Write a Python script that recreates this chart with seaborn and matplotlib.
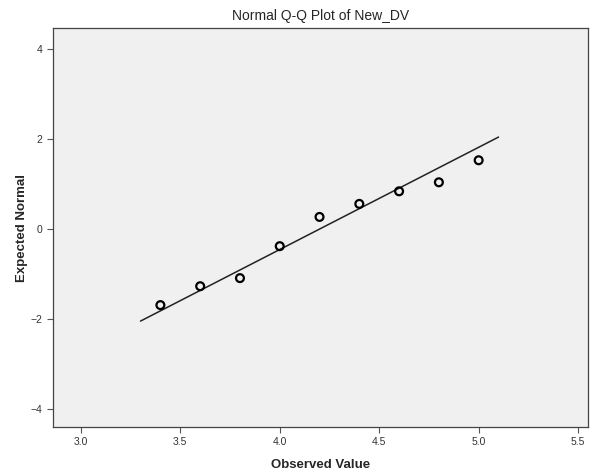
import numpy as np
import pandas as pd
import matplotlib
matplotlib.use("Agg")
import matplotlib.pyplot as plt
import seaborn as sns

observed = [3.4, 3.6, 3.8, 4.0, 4.2, 4.4, 4.6, 4.8, 5.0]
expected = [-1.69, -1.27, -1.09, -0.38, 0.27, 0.56, 0.84, 1.04, 1.53]

# reference line from the sample mean and sd
line_mean = 4.2
line_sd = 0.44
line_x = [3.3, 5.1]

x_ticks = [3.0, 3.5, 4.0, 4.5, 5.0, 5.5]
y_ticks = [-4, -2, 0, 2, 4]

df = pd.DataFrame({"Observed": observed, "Expected": expected})
line_df = pd.DataFrame({"x": line_x, "y": [(v - line_mean) / line_sd for v in line_x]})

sns.set_style("ticks")
plt.rcParams["font.family"] = ["Liberation Sans", "DejaVu Sans"]

fig = plt.figure(figsize=(5.94, 4.72), dpi=100)
ax = fig.add_axes([0.0892, 0.0953, 0.9008, 0.8454])
ax.set_facecolor("#f0f0f0")

sns.lineplot(data=line_df, x="x", y="y", ax=ax, color="#222222", linewidth=1.1)
sns.scatterplot(data=df, x="Observed", y="Expected", ax=ax, s=32,
                facecolor="none", edgecolor="black", linewidth=1.6, zorder=3)

ax.set_xlim(2.86, 5.55)
ax.set_ylim(-4.4, 4.47)
ax.set_xticks(x_ticks)
ax.set_xticklabels([f"{t:.1f}" for t in x_ticks])
ax.set_yticks(y_ticks)
ax.tick_params(axis="both", labelsize=7.5, labelcolor="#333333", color="#555555",
               length=4, width=0.8)

for s in ax.spines.values():
    s.set_color("#444444")
    s.set_linewidth(0.9)

ax.set_xlabel("Observed Value", fontsize=9.5, fontweight="bold", labelpad=8)
ax.set_ylabel("Expected Normal", fontsize=9.5, fontweight="bold", labelpad=2)
ax.set_title("Normal Q-Q Plot of New_DV", fontsize=10, pad=6)

fig.savefig("out.png", dpi=100)
